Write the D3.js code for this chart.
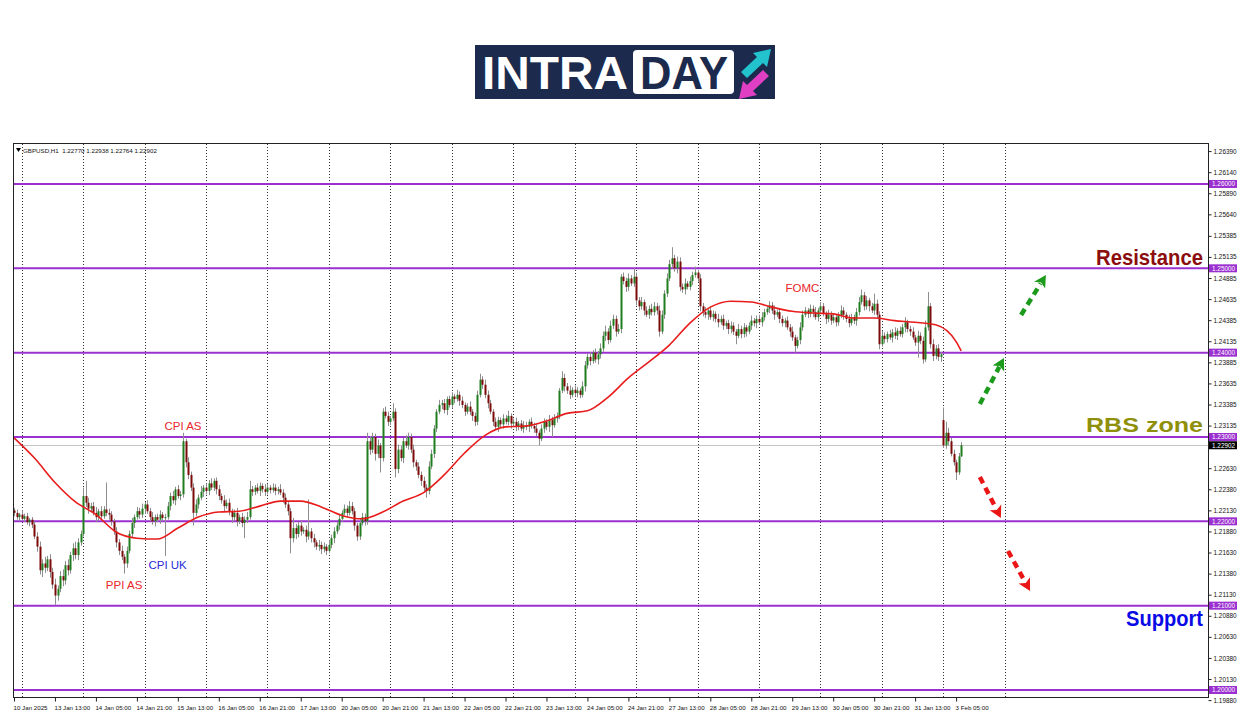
<!DOCTYPE html>
<html><head><meta charset="utf-8">
<script src="https://cdn.jsdelivr.net/npm/d3@7"></script>
<style>body{margin:0;background:#fff;overflow:hidden}svg{display:block}</style>
</head><body><svg id="c" width="1250" height="716"></svg>
<script>
// ---------------- DATA ----------------
const symbolHeader = "GBPUSD,H1  1.22770 1.22938 1.22764 1.22902";
const firstOpen = 1.2213;
const gapBars = [363];
const gapOpens = [1.2320];
const closes = [
1.2210,1.2205,1.2208,1.2203,1.2206,1.2199,1.2202,1.2196,1.2182,1.2170,
1.2142,1.2150,1.2145,1.2155,1.2140,1.2125,1.2112,1.2120,1.2135,1.2130,
1.2148,1.2142,1.2160,1.2168,1.2160,1.2175,1.2185,1.2230,1.2222,1.2215,
1.2218,1.2210,1.2205,1.2212,1.2206,1.2214,1.2210,1.2208,1.2200,1.2188,
1.2175,1.2165,1.2158,1.2150,1.2165,1.2185,1.2198,1.2205,1.2212,1.2208,
1.2215,1.2220,1.2212,1.2205,1.2200,1.2205,1.2202,1.2208,1.2204,1.2205,
1.2218,1.2230,1.2225,1.2238,1.2230,1.2232,1.2295,1.2270,1.2255,1.2240,
1.2210,1.2220,1.2228,1.2235,1.2240,1.2236,1.2245,1.2240,1.2248,1.2238,
1.2230,1.2225,1.2218,1.2222,1.2212,1.2205,1.2210,1.2200,1.2205,1.2198,
1.2202,1.2205,1.2238,1.2235,1.2240,1.2236,1.2242,1.2238,1.2235,1.2240,
1.2237,1.2240,1.2236,1.2238,1.2234,1.2228,1.2220,1.2212,1.2180,1.2192,
1.2185,1.2195,1.2188,1.2190,1.2182,1.2188,1.2180,1.2175,1.2170,1.2172,
1.2167,1.2170,1.2165,1.2172,1.2180,1.2188,1.2195,1.2203,1.2210,1.2215,
1.2210,1.2218,1.2212,1.2195,1.2182,1.2198,1.2205,1.2200,1.2295,1.2285,
1.2300,1.2280,1.2290,1.2275,1.2330,1.2325,1.2318,1.2322,1.2330,1.2262,
1.2285,1.2275,1.2295,1.2290,1.2300,1.2285,1.2270,1.2265,1.2255,1.2248,
1.2240,1.2236,1.2265,1.2280,1.2310,1.2330,1.2338,1.2340,1.2332,1.2345,
1.2338,1.2348,1.2345,1.2350,1.2343,1.2338,1.2330,1.2336,1.2330,1.2325,
1.2318,1.2350,1.2368,1.2362,1.2350,1.2340,1.2330,1.2318,1.2312,1.2320,
1.2315,1.2322,1.2318,1.2325,1.2316,1.2318,1.2312,1.2316,1.2310,1.2314,
1.2312,1.2318,1.2313,1.2310,1.2305,1.2298,1.2310,1.2318,1.2312,1.2320,
1.2314,1.2322,1.2325,1.2355,1.2370,1.2360,1.2355,1.2350,1.2356,1.2352,
1.2355,1.2350,1.2360,1.2385,1.2395,1.2390,1.2400,1.2392,1.2398,1.2405,
1.2420,1.2425,1.2415,1.2432,1.2440,1.2425,1.2428,1.2490,1.2485,1.2478,
1.2488,1.2482,1.2490,1.2462,1.2455,1.2460,1.2450,1.2445,1.2452,1.2448,
1.2455,1.2450,1.2425,1.2445,1.2470,1.2488,1.2505,1.2512,1.2500,1.2508,
1.2478,1.2475,1.2482,1.2478,1.2485,1.2492,1.2495,1.2488,1.2455,1.2448,
1.2445,1.2450,1.2442,1.2446,1.2440,1.2436,1.2440,1.2432,1.2435,1.2428,
1.2432,1.2425,1.2420,1.2428,1.2422,1.2430,1.2425,1.2432,1.2438,1.2435,
1.2440,1.2436,1.2442,1.2448,1.2452,1.2456,1.2450,1.2445,1.2448,1.2440,
1.2435,1.2438,1.2430,1.2425,1.2418,1.2408,1.2415,1.2430,1.2445,1.2450,
1.2446,1.2452,1.2448,1.2442,1.2450,1.2455,1.2446,1.2440,1.2445,1.2438,
1.2442,1.2436,1.2444,1.2450,1.2445,1.2440,1.2435,1.2442,1.2438,1.2448,
1.2460,1.2468,1.2455,1.2462,1.2455,1.2450,1.2458,1.2445,1.2410,1.2420,
1.2416,1.2422,1.2418,1.2424,1.2420,1.2426,1.2422,1.2430,1.2436,1.2428,
1.2425,1.2418,1.2412,1.2420,1.2414,1.2392,1.2430,1.2455,1.2410,1.2396,
1.2405,1.2395,1.2398,1.2290,1.2305,1.2295,1.2280,1.2270,1.2258,1.2277,
1.22902];
// wick lengths in pips (upper / lower)
const wickUp = [
3,4,2,5,3,4,2,3,4,5, 6,5,8,4,6,5,7,4,6,8, 5,7,4,6,8,5,4,10,18,6, 4,5,7,3,6,4,32,5,4,3,
5,4,6,3,5,4,6,3,5,4, 6,3,5,4,6,3,4,5,3,4, 5,4,6,3,5,4,10,3,6,4, 5,6,4,7,3,5,4,6,3,4,
5,3,6,4,5,3,4,6,3,5, 4,6,10,4,3,5,4,3,6,4, 3,5,4,3,6,4,5,3,4,12, 5,4,6,3,5,38,4,5,3,6,
4,5,3,6,4,5,4,6,3,5, 4,6,5,4,3,6,5,4,10,6, 5,4,7,3,4,6,5,3,10,4, 6,5,4,7,5,4,6,3,5,4,
5,4,6,5,4,3,6,4,5,3, 4,5,3,6,4,5,3,4,6,3, 4,5,7,4,6,5,4,3,5,4, 3,5,4,6,3,4,5,3,4,5,
4,3,5,4,6,3,5,4,3,6, 4,5,4,3,8,5,4,6,3,5, 4,3,6,5,4,6,3,5,4,6, 5,7,4,6,5,4,6,3,5,4,
6,4,10,5,4,6,3,5,4,6, 5,4,6,5,4,6,5,13,4,6, 5,4,6,3,5,4,7,3,5,4, 6,3,5,4,3,6,4,5,3,4,
5,4,3,6,4,5,3,4,6,3, 4,5,6,4,3,5,4,6,3,5, 4,3,5,4,6,3,4,6,5,4, 3,5,4,6,3,5,4,3,6,4,
5,3,4,6,4,3,5,4,3,5, 6,7,4,5,3,4,12,5,4,6, 4,3,5,4,6,3,5,4,6,3, 4,5,3,6,4,5,8,17,4,6,
4,5,3,15,13,6,4,5,3,4, 3.6];
const wickDn = [
4,3,5,2,4,3,5,4,3,6, 5,8,6,4,7,5,11,6,4,7, 5,6,4,7,5,6,4,3,5,6, 4,3,6,4,5,3,4,6,5,4,
6,5,4,12,5,3,4,6,3,5, 4,6,3,5,4,6,3,5,4,45, 3,5,4,6,3,5,4,6,5,4, 15,4,5,3,6,4,5,3,4,6,
5,4,6,3,5,7,4,6,3,5, 18,4,3,5,4,3,6,4,5,3, 4,3,5,4,3,6,4,5,18,5, 6,4,5,3,7,4,5,6,4,5,
6,4,5,3,4,6,3,5,4,3, 5,3,4,6,5,4,3,5,4,6, 4,8,5,17,4,3,5,4,3,10, 5,4,6,3,5,4,6,5,4,6,
5,8,4,3,5,4,3,5,4,6, 3,4,5,3,6,4,5,3,4,6, 5,4,3,5,4,6,3,5,4,6, 4,5,3,4,6,3,5,4,3,5,
4,6,3,5,4,8,3,5,4,6, 14,3,5,4,3,6,4,5,3,4, 5,4,3,6,4,5,3,4,6,5, 4,6,5,3,4,6,3,5,4,6,
5,3,4,6,5,4,6,3,5,4, 4,5,6,3,5,4,3,5,4,6, 5,4,6,3,4,5,3,4,6,5, 4,6,3,5,4,6,3,5,4,6,
5,4,10,3,5,4,6,3,5,4, 6,3,5,4,3,5,4,6,3,5, 4,5,3,6,4,8,3,5,4,3, 5,4,6,3,5,4,3,6,4,5,
3,5,4,3,6,4,5,3,4,6, 4,3,5,4,6,3,5,4,6,3, 5,4,3,6,4,5,3,4,6,4, 5,3,4,18,4,5,3,4,5,6,
4,5,6,3,4,5,3,4,9,3, 0.6];
// moving average, read every 8 bars
const maBars = [0,8,16,24,32,40,48,56,64,72,80,88,96,104,112,120,128,136,144,152,160,168,176,184,192,200,
  208,216,224,232,240,248,256,264,272,280,288,296,304,312,320,328,336,344,352,360,368,370];
const maValues = [1.2299,1.2275,1.2246,1.2223,1.2208,1.2187,1.2180,1.2179,1.2192,1.2205,1.2211,1.2212,1.2218,
  1.2224,1.2224,1.2217,1.2207,1.2203,1.2211,1.2224,1.2234,1.2255,1.2281,1.2302,1.2312,1.2313,1.2319,1.2328,
  1.2331,1.2347,1.2370,1.2389,1.2409,1.2435,1.2454,1.2461,1.2460,1.2454,1.2449,1.2447,1.2446,1.2441,1.2441,
  1.2438,1.2436,1.2433,1.2413,1.2402];
const levels = [1.26000,1.25000,1.24000,1.23000,1.22000,1.21000,1.20000];
const lastPrice = 1.22902;
const priceTicks = [1.26390,1.26140,1.25890,1.25640,1.25385,1.25135,1.24885,1.24635,1.24385,1.24135,1.23885,
  1.23635,1.23385,1.23135,1.22630,1.22380,1.22130,1.21880,1.21630,1.21380,1.21130,1.20880,1.20630,1.20380,
  1.20130,1.19880];
const timeLabels = ["10 Jan 2025","13 Jan 13:00","14 Jan 05:00","14 Jan 21:00","15 Jan 13:00","16 Jan 05:00",
  "16 Jan 21:00","17 Jan 13:00","20 Jan 05:00","20 Jan 21:00","21 Jan 13:00","22 Jan 05:00","22 Jan 21:00",
  "23 Jan 13:00","24 Jan 05:00","24 Jan 21:00","27 Jan 13:00","28 Jan 05:00","28 Jan 21:00","29 Jan 13:00",
  "30 Jan 05:00","30 Jan 21:00","31 Jan 13:00","3 Feb 05:00"];
const timeLabelBars = [0,16,32,48,64,80,96,112,128,144,160,176,192,208,224,240,256,272,288,304,320,336,352,368];
const dayStartBars = [3,27,51,75,99,123,147,171,195,219,243,267,291,315,339,363,387];
const events = ["CPI AS","PPI AS","CPI UK","FOMC"];
const eventBars = [66,43,60,308];
const eventPrices = [1.23083,1.21197,1.21435,1.24719];
const eventColors = ["#e8262a","#e8262a","#2a2ad8","#e8262a"];

// ---------------- BUILD ----------------
const pip = 0.0001;
const bars = closes.map((c,i)=>{
  let o = i===0 ? firstOpen : closes[i-1];
  const g = gapBars.indexOf(i); if (g>=0) o = gapOpens[g];
  return {i, o, c, h: Math.max(o,c)+wickUp[i]*pip, l: Math.min(o,c)-wickDn[i]*pip};
});

const svg = d3.select("#c");
const FONT = "'Liberation Sans', Arial, sans-serif";
const L=14, R=1208, T=144, B=697;
const x = d3.scaleLinear().domain([0,466]).range([L, L+2.56*466]);
const y = d3.scaleLinear().domain([1.19917,1.26474]).range([B,T]);

svg.append("rect").attr("width",1250).attr("height",716).attr("fill","#fff");

// ---------- logo ----------
const logo = svg.append("g");
logo.append("rect").attr("x",475).attr("y",45).attr("width",300).attr("height",54).attr("fill","#1c2b4d");
logo.append("text").attr("x",482).attr("y",89).attr("font-family",FONT).attr("font-weight","bold")
  .attr("font-size",46).attr("fill","#fff").attr("textLength",146).attr("lengthAdjust","spacingAndGlyphs").text("INTRA");
logo.append("rect").attr("x",633).attr("y",50).attr("width",101).attr("height",44).attr("rx",4).attr("fill","#fff");
logo.append("text").attr("x",640).attr("y",89).attr("font-family",FONT).attr("font-weight","bold")
  .attr("font-size",46).attr("fill","#1c2b4d").attr("textLength",88).attr("lengthAdjust","spacingAndGlyphs").text("DAY");
logo.append("path").attr("d","M741,72 L757,57 L753,53 L771,49 L767,67 L763,63 L747,78 Z").attr("fill","#22c3cc");
logo.append("path").attr("d","M769,76 L753,91 L757,95 L739,99 L743,81 L747,85 L763,70 Z").attr("fill","#e03fc4");

// ---------- vertical dotted grid ----------
svg.append("g").selectAll("line").data(dayStartBars).join("line")
  .attr("x1",d=>Math.round(x(d))+0.5).attr("x2",d=>Math.round(x(d))+0.5).attr("y1",T).attr("y2",B)
  .attr("stroke","#333").attr("stroke-width",1).attr("stroke-dasharray","1,2");

// ---------- level lines ----------
svg.append("g").selectAll("line").data(levels).join("line")
  .attr("x1",L).attr("x2",R).attr("y1",d=>y(d)).attr("y2",d=>y(d))
  .attr("stroke","#9b30d0").attr("stroke-width",2);
svg.append("line").attr("x1",L).attr("x2",R).attr("y1",Math.round(y(lastPrice))+0.5).attr("y2",Math.round(y(lastPrice))+0.5)
  .attr("stroke","#c4c4c4").attr("stroke-width",1);

// ---------- candles ----------
const cg = svg.append("g");
cg.selectAll("line").data(bars).join("line")
  .attr("x1",d=>Math.round(x(d.i))+0.5).attr("x2",d=>Math.round(x(d.i))+0.5)
  .attr("y1",d=>y(d.h)).attr("y2",d=>y(d.l)).attr("stroke","#8e8e8e").attr("stroke-width",1);
cg.selectAll("rect").data(bars).join("rect")
  .attr("x",d=>Math.round(x(d.i))-0.5).attr("width",2)
  .attr("y",d=>y(Math.max(d.o,d.c))).attr("height",d=>Math.max(1,Math.abs(y(d.o)-y(d.c))))
  .attr("fill",d=>d.c>=d.o?"#1f7d1f":"#7d0a0a");

// ---------- moving average ----------
const maPts = maBars.map((b,k)=>[b,maValues[k]]);
svg.append("path").datum(maPts)
  .attr("d",d3.line().x(d=>x(d[0])).y(d=>y(d[1])).curve(d3.curveMonotoneX))
  .attr("fill","none").attr("stroke","#e81c1c").attr("stroke-width",1.6);

// ---------- frame ----------
svg.append("rect").attr("x",L-0.5).attr("y",T-0.5).attr("width",R-L+1).attr("height",B-T+1)
  .attr("fill","none").attr("stroke","#222").attr("stroke-width",1);

// ---------- axes ----------
const ay = svg.append("g").attr("transform",`translate(${R+0.5},0)`)
  .call(d3.axisRight(y).tickValues(priceTicks).tickFormat(d3.format(".5f")).tickSize(3).tickPadding(2));
ay.select(".domain").remove();
ay.selectAll("text").attr("font-family",FONT).attr("font-size",6.4).attr("fill","#111");
ay.selectAll("line").attr("stroke","#222");

const ax = svg.append("g").attr("transform",`translate(0,${B+0.5})`)
  .call(d3.axisBottom(x).tickValues(timeLabelBars).tickFormat((d,i)=>timeLabels[i]).tickSize(4).tickPadding(4));
ax.select(".domain").remove();
ax.selectAll("text").attr("font-family",FONT).attr("font-size",6.2).attr("fill","#111").attr("text-anchor","start").attr("dx",-1);
ax.selectAll("line").attr("stroke","#222");

// level price tags
const tags = svg.append("g").selectAll("g").data(levels).join("g")
  .attr("transform",d=>`translate(${R+1},${y(d)})`);
tags.append("rect").attr("x",0).attr("y",-4).attr("width",28).attr("height",8).attr("fill","#9b30d0");
tags.append("text").attr("x",3).attr("y",2.4).attr("font-family",FONT).attr("font-size",6.4).attr("fill","#fff")
  .text(d=>d3.format(".5f")(d));
const lp = svg.append("g").attr("transform",`translate(${R+1},${y(lastPrice)})`);
lp.append("rect").attr("x",0).attr("y",-4).attr("width",28).attr("height",8).attr("fill","#000");
lp.append("text").attr("x",3).attr("y",2.4).attr("font-family",FONT).attr("font-size",6.4).attr("fill","#fff")
  .text(d3.format(".5f")(lastPrice));

// header
svg.append("path").attr("d",`M${L+2},${T+4} L${L+7},${T+4} L${L+4.5},${T+8} Z`).attr("fill","#000");
svg.append("text").attr("x",L+9).attr("y",T+8.5).attr("font-family",FONT).attr("font-size",6.2)
  .attr("fill","#111").attr("xml:space","preserve").style("white-space","pre").text(symbolHeader);

// event annotations
svg.append("g").selectAll("text").data(events).join("text")
  .attr("x",(d,k)=>x(eventBars[k])).attr("y",(d,k)=>y(eventPrices[k]))
  .attr("text-anchor","middle").attr("font-family",FONT).attr("font-size",11.5)
  .attr("fill",(d,k)=>eventColors[k]).text(d=>d);

// zone labels
const zoneTxt = [
  {t:"Resistance", p:1.25039, c:"#8b0d0d", fs:22, w:107},
  {t:"RBS zone",   p:1.23059, c:"#8f8f0a", fs:21, w:117},
  {t:"Support",    p:1.20760, c:"#0a0ae6", fs:22, w:77}
];
svg.append("g").selectAll("text").data(zoneTxt).join("text")
  .attr("x",d=>1203-d.w).attr("y",d=>y(d.p)).attr("font-family",FONT).attr("font-weight","bold")
  .attr("font-size",d=>d.fs).attr("fill",d=>d.c).attr("textLength",d=>d.w).attr("lengthAdjust","spacingAndGlyphs")
  .text(d=>d.t);

// dashed arrows (bar index, price)
const arrows = [
  {a:[377.3,1.23391], b:[386.7,1.23937], c:"#1b9a1b"},
  {a:[393.4,1.24447], b:[403.1,1.24921], c:"#1b9a1b"},
  {a:[377.3,1.22526], b:[385.5,1.22039], c:"#ea1515"},
  {a:[388.3,1.21648], b:[396.9,1.21174], c:"#ea1515"}
];
arrows.forEach(ar=>{
  const x1=x(ar.a[0]), y1=y(ar.a[1]), x2=x(ar.b[0]), y2=y(ar.b[1]);
  const dx=x2-x1, dy=y2-y1, len=Math.hypot(dx,dy), ux=dx/len, uy=dy/len;
  const hl=12, hw=6.5;
  const bx=x2-ux*hl, by=y2-uy*hl;
  svg.append("line").attr("x1",x1).attr("y1",y1).attr("x2",bx+ux*2).attr("y2",by+uy*2)
    .attr("stroke",ar.c).attr("stroke-width",4.5).attr("stroke-dasharray","7,5");
  svg.append("path").attr("d",`M${x2},${y2} L${bx-uy*hw},${by+ux*hw} L${bx+ux*3},${by+uy*3} L${bx+uy*hw},${by-ux*hw} Z`)
    .attr("fill",ar.c);
});
</script>
</body></html>
